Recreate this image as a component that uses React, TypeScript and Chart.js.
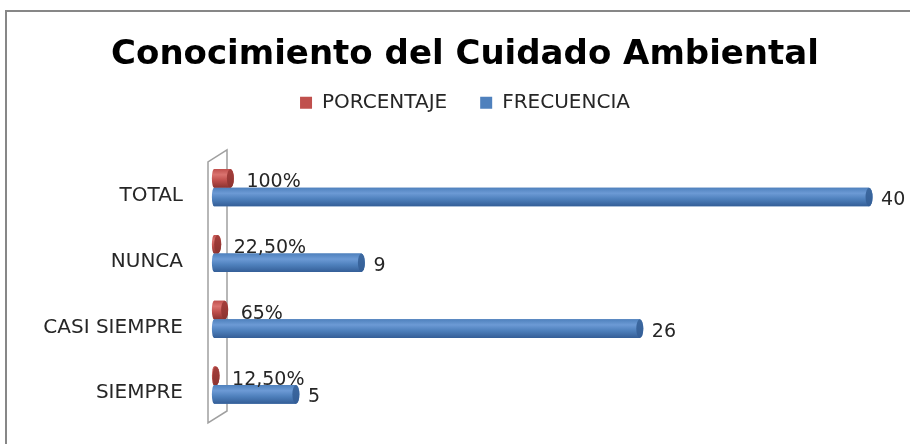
import React, { useEffect, useRef } from "react";
import { Chart, registerables } from "chart.js";

Chart.register(...registerables);

const categories = ["TOTAL", "NUNCA", "CASI SIEMPRE", "SIEMPRE"];
const seriesNames = ["PORCENTAJE", "FRECUENCIA"];
const porcentaje = [1, 0.225, 0.65, 0.125];
const porcentajeLabels = ["100%", "22,50%", "65%", "12,50%"];
const frecuencia = [40, 9, 26, 5];
const frecuenciaLabels = ["40", "9", "26", "5"];
const xMin = 0;
const xMax = 42.5;
const titleText = "Conocimiento del Cuidado Ambiental";

const RED = { base: "#C0504D", light: "#DA736F", dark: "#8C3330", face: "#A53F3C" };
const BLUE = { base: "#4F81BD", light: "#6C9AD5", dark: "#345E97", face: "#3D69A0" };
const FONT = "DejaVu Sans";
const TEXT = "#262626";

function drawCylinder(ctx: CanvasRenderingContext2D, x0: number, x1: number, yc: number, h: number, c: any) {
  const top = yc - h / 2;
  const bot = yc + h / 2;
  const ry = h / 2;
  const rx = 3.5;
  const g = ctx.createLinearGradient(0, top, 0, bot);
  g.addColorStop(0, c.base);
  g.addColorStop(0.3, c.light);
  g.addColorStop(0.6, c.base);
  g.addColorStop(1, c.dark);
  ctx.beginPath();
  ctx.moveTo(x0, top);
  ctx.lineTo(x1, top);
  ctx.ellipse(x1, yc, rx, ry, 0, -Math.PI / 2, Math.PI / 2, false);
  ctx.lineTo(x0, bot);
  ctx.ellipse(x0, yc, rx * 0.6, ry, 0, Math.PI / 2, Math.PI * 1.5, false);
  ctx.closePath();
  ctx.fillStyle = g;
  ctx.fill();
  const gf = ctx.createLinearGradient(0, top, 0, bot);
  gf.addColorStop(0, c.face);
  gf.addColorStop(1, c.dark);
  ctx.beginPath();
  ctx.ellipse(x1, yc, rx, ry, 0, 0, Math.PI * 2);
  ctx.fillStyle = gf;
  ctx.fill();
}

const decoPlugin = {
  id: "deco",
  beforeDraw(chart: any) {
    const ctx = chart.ctx;
    ctx.save();
    ctx.fillStyle = "#ffffff";
    ctx.fillRect(0, 0, chart.width, chart.height);
    ctx.strokeStyle = "#878787";
    ctx.lineWidth = 2;
    ctx.beginPath();
    ctx.moveTo(6, chart.height);
    ctx.lineTo(6, 11);
    ctx.lineTo(chart.width, 11);
    ctx.stroke();
    ctx.restore();
  },
  beforeDatasetsDraw(chart: any) {
    const { left, top, bottom } = chart.chartArea;
    const ctx = chart.ctx;
    ctx.save();
    ctx.strokeStyle = "#a0a0a0";
    ctx.lineWidth = 1.5;
    const xl = left - 6;
    const xr = left + 13;
    ctx.beginPath();
    ctx.moveTo(xl, bottom + 5);
    ctx.lineTo(xl, top + 7);
    ctx.lineTo(xr, top - 5);
    ctx.lineTo(xr, bottom - 7);
    ctx.closePath();
    ctx.stroke();
    ctx.restore();
  },
  afterDatasetsDraw(chart: any) {
    const ctx = chart.ctx;
    ctx.save();
    const colors = [RED, BLUE];
    const labels = [porcentajeLabels, frecuenciaLabels];
    const geo: any[] = [];
    chart.data.datasets.forEach((_: any, di: number) => {
      const meta = chart.getDatasetMeta(di);
      meta.data.forEach((el: any, i: number) => {
        const p = el.getProps(["x", "y", "base", "height"], true);
        drawCylinder(ctx, p.base, p.x, p.y, p.height, colors[di]);
        geo.push({ di, i, p });
      });
    });
    ctx.fillStyle = TEXT;
    ctx.font = `19px "${FONT}"`;
    ctx.textAlign = "left";
    ctx.textBaseline = "middle";
    geo.forEach(({ di, i, p }) => {
      const dx = di === 0 ? 16 : 12;
      const dy = di === 0 ? 4 : 3;
      ctx.fillText(labels[di][i], p.x + dx, p.y + dy);
    });
    ctx.restore();
  },
};

export default function App() {
  const ref = useRef<HTMLCanvasElement>(null);
  useEffect(() => {
    if (!ref.current) return;
    const chart = new Chart(ref.current, {
      type: "bar",
      data: {
        labels: categories,
        datasets: [
          { label: seriesNames[0], data: porcentaje, backgroundColor: RED.base, borderWidth: 0 },
          { label: seriesNames[1], data: frecuencia, backgroundColor: BLUE.base, borderWidth: 0 },
        ],
      },
      options: {
        indexAxis: "y",
        responsive: false,
        animation: false,
        events: [],
        categoryPercentage: 0.565,
        barPercentage: 1,
        layout: { padding: { left: 20, right: 0, top: 0, bottom: 26 } },
        scales: {
          x: {
            position: "top",
            min: xMin,
            max: xMax,
            ticks: { display: false },
            grid: { display: false, drawTicks: false },
            border: { display: false },
            afterFit: (s: any) => {
              s.height = 32;
            },
          },
          y: {
            position: "left",
            ticks: { padding: 0, labelOffset: 8, color: TEXT, font: { family: FONT, size: 20 } },
            grid: { display: false, drawTicks: true, tickLength: 31 },
            border: { display: false },
            afterFit: (s: any) => {
              s.width = 194;
            },
          },
        },
        plugins: {
          title: {
            display: true,
            text: titleText,
            color: "#000000",
            font: { family: FONT, size: 34, weight: "bold" },
            padding: { top: 35, bottom: -16 },
          },
          legend: {
            display: true,
            position: "top",
            labels: {
              boxWidth: 12,
              boxHeight: 12,
              padding: 33,
              color: TEXT,
              font: { family: FONT, size: 20 },
            },
          },
          tooltip: { enabled: false },
        },
      } as any,
      plugins: [decoPlugin],
    });
    return () => chart.destroy();
  }, []);
  return (
    <div style={{ position: "fixed", left: 0, top: 0, width: 910, height: 444, background: "#fff" }}>
      <canvas ref={ref} width={910} height={444} style={{ display: "block" }} />
    </div>
  );
}
